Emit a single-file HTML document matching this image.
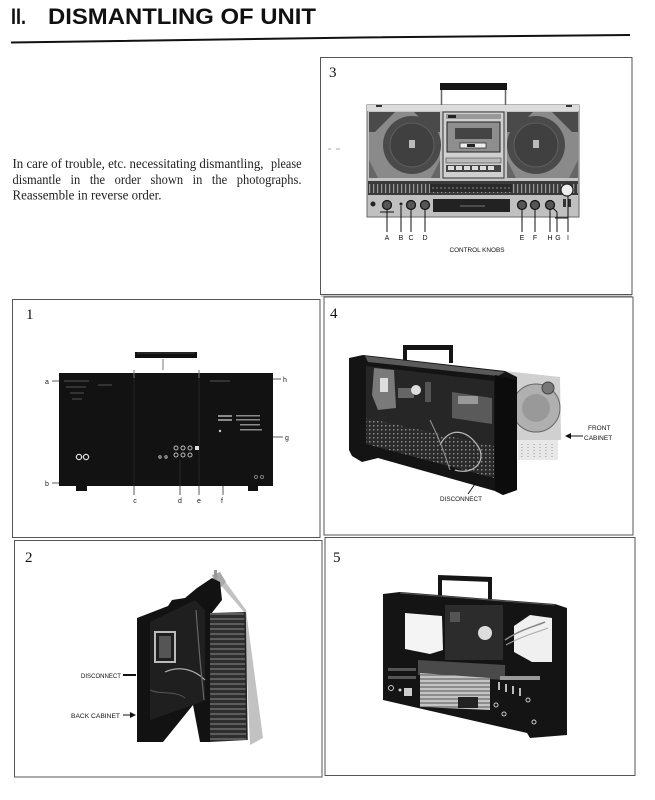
<!DOCTYPE html>
<html><head><meta charset="utf-8"><style>
html,body{margin:0;padding:0;background:#fff;}
svg{display:block;}
</style></head><body>
<svg width="655" height="800" viewBox="0 0 655 800" xmlns="http://www.w3.org/2000/svg">
<defs>
  <pattern id="dots" width="4" height="4" patternUnits="userSpaceOnUse"><rect width="4" height="4" fill="#2a2a2a"/><rect x="1" y="1" width="1.5" height="1.5" fill="#8a8a8a"/></pattern>
  <pattern id="grille" width="5" height="5" patternUnits="userSpaceOnUse"><rect width="5" height="5" fill="#2e2e2e"/><rect x="0" y="3.5" width="5" height="1" fill="#8a8a8a"/></pattern>
  <pattern id="ticks" width="4" height="14" patternUnits="userSpaceOnUse"><rect width="4" height="14" fill="#3a3a3a"/><rect x="1" y="2" width="1.2" height="9" fill="#9a9a9a"/></pattern>
  <pattern id="chrome" width="6" height="4" patternUnits="userSpaceOnUse"><rect width="6" height="4" fill="#c4c4c4"/><rect x="0" y="2.5" width="6" height="1" fill="#555"/></pattern>
  <marker id="arL" markerWidth="6" markerHeight="6" refX="1" refY="3" orient="auto" markerUnits="userSpaceOnUse"><path d="M6,0 L0,3 L6,6 z" fill="#111"/></marker>
  <marker id="arR" markerWidth="6" markerHeight="6" refX="5" refY="3" orient="auto" markerUnits="userSpaceOnUse"><path d="M0,0 L6,3 L0,6 z" fill="#111"/></marker>
</defs>

<!-- Title -->
<text x="11" y="24" font-family="Liberation Sans, sans-serif" font-weight="bold" font-size="22" fill="#111" textLength="15" lengthAdjust="spacingAndGlyphs">II.</text>
<text x="48" y="24" font-family="Liberation Sans, sans-serif" font-weight="bold" font-size="22" fill="#111" textLength="268" lengthAdjust="spacingAndGlyphs">DISMANTLING OF UNIT</text>
<polyline points="11,42.5 360,37.5 630,35" fill="none" stroke="#111" stroke-width="2"/>

<!-- Paragraph -->
<g font-family="Liberation Serif, serif" font-size="13.5" fill="#222">
  <text x="12.5" y="168" textLength="251" lengthAdjust="spacingAndGlyphs">In care of trouble, etc. necessitating dismantling,</text>
  <text x="271" y="168" textLength="30.5" lengthAdjust="spacingAndGlyphs">please</text>
  <text x="12.5" y="184" word-spacing="7" textLength="289" lengthAdjust="spacingAndGlyphs">dismantle in the order shown in the photographs.</text>
  <text x="12.5" y="199.5" textLength="149" lengthAdjust="spacingAndGlyphs">Reassemble in reverse order.</text>
</g>
<line x1="328" y1="149" x2="331" y2="149" stroke="#aaa" stroke-width="1"/>
<line x1="336" y1="149" x2="340" y2="149" stroke="#aaa" stroke-width="1"/>

<!-- Box frames -->
<g fill="none" stroke="#555" stroke-width="1">
  <rect x="320.5" y="57.5" width="311.5" height="237"/>
  <line x1="321" y1="296" x2="632" y2="296" stroke="#999"/>
  <rect x="12.5" y="299.5" width="307.5" height="238"/>
  <rect x="324" y="297" width="309" height="238"/>
  <rect x="14.5" y="540.5" width="307.5" height="236.5"/>
  <rect x="325" y="537.5" width="310" height="238"/>
</g>

<!-- Numbers -->
<g font-family="Liberation Serif, serif" font-size="15" fill="#111">
  <text x="329" y="77">3</text>
  <text x="26" y="319">1</text>
  <text x="330" y="318">4</text>
  <text x="25" y="562">2</text>
  <text x="333" y="562">5</text>
</g>

<!-- ===== Box 3 : front view boombox ===== -->
<g>
  <rect x="440" y="83" width="67" height="7" fill="#151515"/>
  <line x1="441.5" y1="90" x2="441.5" y2="106" stroke="#666" stroke-width="1.5"/>
  <line x1="505.5" y1="90" x2="505.5" y2="106" stroke="#666" stroke-width="1.5"/>
  <rect x="367" y="105" width="212" height="112" fill="#c4c4c4" stroke="#666" stroke-width="1"/>
  <rect x="367" y="105" width="212" height="6" fill="#dcdcdc"/>
  <rect x="376" y="105" width="6" height="2" fill="#333"/>
  <rect x="566" y="105" width="6" height="2" fill="#333"/>
  <!-- left speaker -->
  <rect x="369" y="112" width="71" height="66" fill="#8a8a8a"/>
  <polygon points="369,112 395,112 375,132 369,132" fill="#4a4a4a"/>
  <polygon points="414,112 440,112 440,132 434,132" fill="#4a4a4a"/>
  <polygon points="369,160 378,178 369,178" fill="#666"/>
  <polygon points="440,160 431,178 440,178" fill="#666"/>
  <circle cx="412" cy="145" r="29" fill="#4a4a4a"/>
  <circle cx="412" cy="145" r="22" fill="#404040" stroke="#5e5e5e" stroke-width="1"/>
  <rect x="409" y="140" width="6" height="8" fill="#bbb"/>
  <!-- cassette -->
  <rect x="443" y="112" width="61" height="66" fill="#d0d0d0" stroke="#333" stroke-width="1"/>
  <rect x="446" y="114" width="55" height="5" fill="#999"/>
  <rect x="448" y="115" width="8" height="3" fill="#222"/>
  <rect x="447" y="122" width="53" height="30" fill="#8e8e8e" stroke="#222" stroke-width="1"/>
  <rect x="455" y="128" width="37" height="11" fill="#444"/>
  <rect x="460" y="143" width="26" height="5" fill="#eee" stroke="#333" stroke-width="0.8"/>
  <rect x="467" y="144" width="8" height="3" fill="#222"/>
  <rect x="446" y="158" width="55" height="5" fill="#bbb" stroke="#444" stroke-width="0.6"/>
  <rect x="446" y="165" width="55" height="7" fill="#444"/>
  <g fill="#ddd"><rect x="448" y="166" width="6" height="4"/><rect x="456" y="166" width="6" height="4"/><rect x="464" y="166" width="6" height="4"/><rect x="472" y="166" width="6" height="4"/><rect x="480" y="166" width="6" height="4"/><rect x="488" y="166" width="6" height="4"/></g>
  <!-- right speaker -->
  <rect x="507" y="112" width="71" height="66" fill="#8a8a8a"/>
  <polygon points="507,112 533,112 513,132 507,132" fill="#4a4a4a"/>
  <polygon points="552,112 578,112 578,132 572,132" fill="#4a4a4a"/>
  <polygon points="507,160 516,178 507,178" fill="#666"/>
  <polygon points="578,160 569,178 578,178" fill="#666"/>
  <circle cx="536" cy="145" r="29" fill="#4a4a4a"/>
  <circle cx="536" cy="145" r="22" fill="#404040" stroke="#5e5e5e" stroke-width="1"/>
  <rect x="533" y="140" width="6" height="8" fill="#bbb"/>
  <!-- tick strip -->
  <rect x="368" y="181" width="210" height="14" fill="url(#ticks)"/>
  <rect x="430" y="184" width="82" height="8" fill="#2a2a2a"/>
  <line x1="432" y1="188" x2="510" y2="188" stroke="#888" stroke-width="1" stroke-dasharray="2,2"/>
  <!-- lower panel -->
  <rect x="368" y="195" width="210" height="21" fill="#c0c0c0"/>
  <rect x="433" y="199" width="77" height="13" fill="#222"/>
  <line x1="460" y1="206" x2="485" y2="206" stroke="#777" stroke-width="1"/>
  <circle cx="373" cy="204" r="2.5" fill="#222"/>
  <g fill="#555" stroke="#111" stroke-width="1.2">
    <circle cx="387" cy="205" r="4.5"/><circle cx="411" cy="205" r="4.5"/><circle cx="425" cy="205" r="4.5"/>
    <circle cx="522" cy="205" r="4.5"/><circle cx="535" cy="205" r="4.5"/><circle cx="550" cy="205" r="4.5"/>
  </g>
  <circle cx="401" cy="204" r="1.5" fill="#222"/>
  <circle cx="567" cy="190" r="6" fill="#eee" stroke="#222" stroke-width="1.2"/>
  <rect x="563" y="199" width="3" height="8" fill="#333"/><rect x="568" y="199" width="3" height="8" fill="#333"/>
  <g stroke="#111" stroke-width="1">
    <line x1="387" y1="210" x2="387" y2="232"/><line x1="380" y1="212" x2="394" y2="212"/>
    <line x1="401" y1="206" x2="401" y2="232"/>
    <line x1="411" y1="210" x2="411" y2="232"/>
    <line x1="425" y1="210" x2="425" y2="232"/>
    <line x1="522" y1="210" x2="522" y2="232"/>
    <line x1="535" y1="210" x2="535" y2="232"/>
    <line x1="550" y1="210" x2="550" y2="232"/>
    <line x1="553" y1="208" x2="557" y2="212"/>
    <line x1="557" y1="212" x2="557" y2="232"/>
    <line x1="555" y1="218" x2="568" y2="218"/>
    <line x1="568" y1="196" x2="568" y2="232"/>
  </g>
  <g font-family="Liberation Sans, sans-serif" font-size="7" fill="#111" text-anchor="middle">
    <text x="387" y="240">A</text><text x="401" y="240">B</text><text x="411" y="240">C</text><text x="425" y="240">D</text>
    <text x="522" y="240">E</text><text x="535" y="240">F</text><text x="550" y="240">H</text><text x="558" y="240">G</text><text x="568" y="240">I</text>
    <text x="477" y="252" font-size="6.5" textLength="55" lengthAdjust="spacingAndGlyphs">CONTROL KNOBS</text>
  </g>
</g>

<!-- ===== Box 1 : rear view ===== -->
<g>
  <rect x="135" y="352" width="62" height="6" fill="#111"/>
  <line x1="137" y1="353" x2="195" y2="353" stroke="#666" stroke-width="0.6"/>
  <line x1="163" y1="359" x2="163" y2="370" stroke="#555" stroke-width="0.8"/>
  <rect x="59" y="373" width="214" height="113" fill="#121212"/>
  <rect x="76" y="486" width="11" height="5" fill="#111"/>
  <rect x="248" y="486" width="10" height="5" fill="#111"/>
  <line x1="134" y1="370" x2="134" y2="378" stroke="#777" stroke-width="1"/>
  <line x1="199" y1="370" x2="199" y2="378" stroke="#777" stroke-width="1"/>
  <line x1="134" y1="378" x2="134" y2="486" stroke="#2a2a2a" stroke-width="0.8"/>
  <line x1="199" y1="378" x2="199" y2="486" stroke="#2a2a2a" stroke-width="0.8"/>
  <g fill="#333"><rect x="64" y="380" width="25" height="2"/><rect x="66" y="386" width="20" height="2"/><rect x="70" y="392" width="14" height="2"/><rect x="72" y="398" width="10" height="2"/><rect x="98" y="384" width="14" height="2"/><rect x="210" y="380" width="20" height="2"/></g>
  <g fill="none" stroke="#ddd" stroke-width="1.3"><circle cx="79" cy="457" r="2.6"/><circle cx="86" cy="457" r="2.6"/></g>
  <g fill="none" stroke="#bbb" stroke-width="1"><circle cx="176" cy="448" r="2"/><circle cx="183" cy="448" r="2"/><circle cx="190" cy="448" r="2"/><circle cx="176" cy="455" r="2"/><circle cx="183" cy="455" r="2"/><circle cx="190" cy="455" r="2"/><circle cx="160" cy="457" r="1.2"/><circle cx="166" cy="457" r="1.2"/></g>
  <rect x="195" y="446" width="4" height="4" fill="#ddd"/>
  <g fill="#8a8a8a"><rect x="218" y="415" width="14" height="2"/><rect x="218" y="419" width="14" height="2"/><rect x="236" y="415" width="24" height="1.5"/><rect x="236" y="419" width="24" height="1.5"/><rect x="240" y="424" width="20" height="1.5"/><rect x="240" y="429" width="22" height="1.5"/></g>
  <circle cx="220" cy="431" r="1.2" fill="#ccc"/>
  <circle cx="256" cy="477" r="1.5" fill="none" stroke="#999" stroke-width="0.8"/><circle cx="262" cy="477" r="1.5" fill="none" stroke="#999" stroke-width="0.8"/>
  <g stroke="#333" stroke-width="0.8">
    <line x1="52" y1="381" x2="59" y2="381"/><line x1="273" y1="379" x2="281" y2="379"/>
    <line x1="273" y1="437" x2="283" y2="437"/><line x1="52" y1="483" x2="59" y2="483"/>
    <line x1="134" y1="486" x2="134" y2="495"/><line x1="180" y1="460" x2="180" y2="495"/>
    <line x1="199" y1="486" x2="199" y2="495"/><line x1="223" y1="486" x2="223" y2="495"/>
  </g>
  <g font-family="Liberation Sans, sans-serif" font-size="7" fill="#222" text-anchor="middle">
    <text x="47" y="384">a</text><text x="285" y="382">h</text><text x="287" y="440">g</text><text x="47" y="486">b</text>
    <text x="135" y="503">c</text><text x="180" y="503">d</text><text x="199" y="503">e</text><text x="222" y="503">f</text>
  </g>
</g>

<!-- ===== Box 4 : back removed ===== -->
<g>
  <polygon points="495,370 560,377 561,440 517,440" fill="#d0d0d0"/>
  <circle cx="536" cy="408" r="24" fill="#b0b0b0" stroke="#666" stroke-width="1"/>
  <circle cx="536" cy="408" r="14" fill="#999"/>
  <circle cx="548" cy="388" r="6" fill="#777" stroke="#444" stroke-width="1"/>
  <rect x="518" y="440" width="40" height="20" fill="#e8e8e8"/>
  <g stroke="#999" stroke-width="1" stroke-dasharray="1,2"><line x1="522" y1="444" x2="522" y2="458"/><line x1="528" y1="444" x2="528" y2="458"/><line x1="534" y1="444" x2="534" y2="458"/><line x1="540" y1="444" x2="540" y2="458"/><line x1="546" y1="444" x2="546" y2="458"/><line x1="552" y1="444" x2="552" y2="458"/></g>
  <rect x="403" y="345" width="50" height="5" fill="#151515"/>
  <rect x="403" y="345" width="4" height="17" fill="#151515"/>
  <rect x="449" y="345" width="4" height="18" fill="#151515"/>
  <polygon points="349,358 363,355 505,371 517,377 517,490 503,495 495,491 378,458 362,462 352,456 349,450" fill="#141414"/>
  <polygon points="365,356 505,372 498,376 368,362" fill="#5a5a5a"/>
  <polygon points="366,366 494,381 494,478 366,444" fill="#262626"/>
  <polygon points="374,368 394,370 396,408 378,410 372,395" fill="#7a7a7a"/>
  <rect x="380" y="378" width="8" height="14" fill="#ddd"/>
  <rect x="398" y="388" width="16" height="10" fill="#666"/>
  <circle cx="416" cy="390" r="5" fill="#ddd"/>
  <rect x="425" y="382" width="6" height="20" fill="#555"/>
  <polygon points="452,392 492,398 492,424 452,418" fill="#5a5a5a"/>
  <rect x="458" y="396" width="20" height="8" fill="#999"/>
  <polygon points="366,418 494,446 494,478 366,444" fill="url(#dots)"/>
  <path d="M440,445 C450,425 470,430 480,450 C485,465 470,475 455,470" fill="none" stroke="#bbb" stroke-width="1.2"/>
  <path d="M430,420 C440,440 445,455 450,470" fill="none" stroke="#999" stroke-width="1"/>
  <polygon points="495,375 517,380 517,490 503,495 495,491" fill="#0c0c0c"/>
  <line x1="566" y1="436" x2="583" y2="436" stroke="#111" stroke-width="1" marker-start="url(#arL)"/>
  <g font-family="Liberation Sans, sans-serif" font-size="6.5" fill="#111">
    <text x="588" y="430">FRONT</text>
    <text x="584" y="440">CABINET</text>
    <text x="440" y="501" textLength="42" lengthAdjust="spacingAndGlyphs">DISCONNECT</text>
  </g>
  <line x1="468" y1="494" x2="475" y2="484" stroke="#111" stroke-width="1"/>
</g>

<!-- ===== Box 2 : back cabinet opened ===== -->
<g>
  <polygon points="212,575 224,580 246,610 263,738 250,745 244,612" fill="#c2c2c2"/>
  <polygon points="212,575 220,572 226,582 218,590" fill="#aaa"/>
  <rect x="214" y="570" width="3" height="18" fill="#999"/>
  <polygon points="137,618 168,606 172,600 185,598 197,588 212,578 220,582 222,600 211,614 211,742 200,742 193,705 163,742 137,742" fill="#121212"/>
  <polygon points="150,622 195,600 205,610 205,700 193,705 150,720" fill="#1f1f1f"/>
  <rect x="155" y="632" width="20" height="30" fill="none" stroke="#bbb" stroke-width="2"/>
  <rect x="159" y="636" width="12" height="22" fill="#555"/>
  <path d="M165,672 C180,665 195,670 205,680" fill="none" stroke="#aaa" stroke-width="1.2"/>
  <path d="M150,690 C160,695 175,690 185,698" fill="none" stroke="#555" stroke-width="1"/>
  <path d="M196,610 L200,660 L204,700" fill="none" stroke="#666" stroke-width="1.2"/>
  <polygon points="210,613 245,612 247,740 210,742" fill="url(#grille)"/>
  <line x1="245" y1="612" x2="247" y2="740" stroke="#222" stroke-width="1.5"/>
  <g stroke="#111" stroke-width="1">
    <line x1="123" y1="675" x2="136" y2="675" stroke-width="2"/>
    <line x1="123" y1="715" x2="135" y2="715" marker-end="url(#arR)"/>
  </g>
  <g font-family="Liberation Sans, sans-serif" font-size="6.5" fill="#111">
    <text x="81" y="678" textLength="40" lengthAdjust="spacingAndGlyphs">DISCONNECT</text>
    <text x="71" y="718" textLength="49" lengthAdjust="spacingAndGlyphs">BACK CABINET</text>
  </g>
</g>

<!-- ===== Box 5 : chassis in cabinet ===== -->
<g>
  <rect x="438" y="576" width="54" height="5" fill="#151515" transform="rotate(2 465 578)"/>
  <rect x="438" y="577" width="4" height="20" fill="#151515"/>
  <rect x="488" y="579" width="4" height="20" fill="#151515"/>
  <polygon points="383,594 400,592 555,604 567,608 567,735 530,738 527,733 383,700" fill="#141414"/>
  <line x1="400" y1="593" x2="555" y2="605" stroke="#555" stroke-width="1"/>
  <polygon points="405,613 442,616 443,650 430,654 405,649" fill="#f4f4f4"/>
  <polygon points="514,626 530,615 552,618 552,662 532,662 514,652" fill="#f0f0f0"/>
  <path d="M505,640 C520,630 530,628 545,622" fill="none" stroke="#888" stroke-width="1.5"/>
  <path d="M506,645 C520,637 532,634 548,628" fill="none" stroke="#aaa" stroke-width="1"/>
  <rect x="445" y="605" width="58" height="55" fill="#2c2c2c"/>
  <circle cx="485" cy="633" r="7" fill="#ddd"/>
  <rect x="450" y="612" width="10" height="10" fill="#555"/>
  <polygon points="418,660 505,665 505,680 418,675" fill="#4a4a4a"/>
  <polygon points="420,673 490,678 490,710 420,707" fill="url(#chrome)"/>
  <rect x="458" y="697" width="20" height="11" fill="#222"/>
  <g fill="#555"><rect x="388" y="668" width="28" height="3"/><rect x="388" y="676" width="28" height="3"/></g>
  <circle cx="391" cy="688" r="2.5" fill="none" stroke="#ccc" stroke-width="1"/>
  <circle cx="400" cy="690" r="1.5" fill="#ccc"/>
  <rect x="404" y="688" width="8" height="8" fill="#ccc"/>
  <g fill="#bbb"><rect x="498" y="682" width="2" height="8"/><rect x="505" y="684" width="2" height="8"/><rect x="512" y="686" width="2" height="8"/><rect x="519" y="688" width="2" height="8"/></g>
  <g fill="none" stroke="#ccc" stroke-width="1"><circle cx="496" cy="705" r="2"/><circle cx="504" cy="714" r="2"/><circle cx="528" cy="700" r="2"/><circle cx="534" cy="722" r="2"/></g>
  <rect x="500" y="676" width="40" height="4" fill="#999"/>
</g>
</svg>
</body></html>
